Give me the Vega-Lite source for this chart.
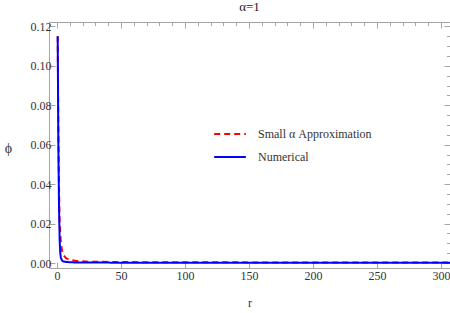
{
  "$schema": "https://vega.github.io/schema/vega-lite/v6.json",
  "width": 401,
  "height": 246,
  "autosize": "none",
  "padding": {"left": 49, "top": 22, "right": 0, "bottom": 45},
  "background": "white",
  "title": {"text": "α=1", "font": "Liberation Serif, Times New Roman, serif", "fontSize": 13, "fontWeight": "normal", "color": "#222", "offset": 6},
  "config": {
    "font": "Liberation Serif, Times New Roman, serif",
    "view": {"stroke": "#a6a6a6", "strokeWidth": 1},
    "axis": {"labelFont": "Liberation Serif, Times New Roman, serif", "titleFont": "Liberation Serif, Times New Roman, serif", "labelFontSize": 12, "labelColor": "#333", "titleColor": "#333", "titleFontWeight": "normal", "domain": false, "grid": false, "tickColor": "#a6a6a6"},
    "legend": {"labelFont": "Liberation Serif, Times New Roman, serif"}
  },
  "data": {"values": [
    {"r": 0.5, "phi": 0.115, "series": "Small α Approximation"},
    {"r": 1, "phi": 0.07, "series": "Small α Approximation"},
    {"r": 1.5, "phi": 0.04, "series": "Small α Approximation"},
    {"r": 2, "phi": 0.02, "series": "Small α Approximation"},
    {"r": 3, "phi": 0.01, "series": "Small α Approximation"},
    {"r": 4, "phi": 0.006, "series": "Small α Approximation"},
    {"r": 5, "phi": 0.004, "series": "Small α Approximation"},
    {"r": 7, "phi": 0.0025, "series": "Small α Approximation"},
    {"r": 10, "phi": 0.0016, "series": "Small α Approximation"},
    {"r": 15, "phi": 0.0011, "series": "Small α Approximation"},
    {"r": 25, "phi": 0.0007, "series": "Small α Approximation"},
    {"r": 50, "phi": 0.0005, "series": "Small α Approximation"},
    {"r": 100, "phi": 0.0004, "series": "Small α Approximation"},
    {"r": 200, "phi": 0.0003, "series": "Small α Approximation"},
    {"r": 310, "phi": 0.00025, "series": "Small α Approximation"},
    {"r": 0.5, "phi": 0.115, "series": "Numerical"},
    {"r": 1, "phi": 0.06, "series": "Numerical"},
    {"r": 1.5, "phi": 0.03, "series": "Numerical"},
    {"r": 2, "phi": 0.012, "series": "Numerical"},
    {"r": 2.5, "phi": 0.005, "series": "Numerical"},
    {"r": 3, "phi": 0.0025, "series": "Numerical"},
    {"r": 4, "phi": 0.0012, "series": "Numerical"},
    {"r": 5, "phi": 0.0008, "series": "Numerical"},
    {"r": 8, "phi": 0.0005, "series": "Numerical"},
    {"r": 15, "phi": 0.0003, "series": "Numerical"},
    {"r": 50, "phi": 0.0002, "series": "Numerical"},
    {"r": 150, "phi": 0.0001, "series": "Numerical"},
    {"r": 310, "phi": 0.0001, "series": "Numerical"}
  ]},
  "resolve": {"axis": {"x": "independent", "y": "independent"}},
  "layer": [
    {
      "mark": {"type": "line", "strokeWidth": 2, "clip": true},
      "encoding": {
        "x": {"field": "r", "type": "quantitative", "scale": {"domain": [-6.3, 307], "nice": false, "zero": false},
              "axis": {"title": "r", "values": [0, 50, 100, 150, 200, 250, 300], "tickSize": -6, "labelPadding": 8, "titleY": 34, "titleBaseline": "middle", "titleFontSize": 12}},
        "y": {"field": "phi", "type": "quantitative", "scale": {"domain": [-0.0025, 0.1222], "nice": false, "zero": false},
              "axis": {"title": "ϕ", "values": [0, 0.02, 0.04, 0.06, 0.08, 0.1, 0.12], "format": ".2f", "tickSize": -6, "labelPadding": 4, "titleAngle": 0, "titleX": -41, "titleY": 126, "titleAlign": "center", "titleBaseline": "middle", "titleFontSize": 14}},
        "color": {"field": "series", "type": "nominal", "sort": null, "scale": {"domain": ["Small α Approximation", "Numerical"], "range": ["#ff0000", "#0000ff"]},
                  "legend": {"title": null, "orient": "none", "legendX": 164, "legendY": 95, "symbolType": "stroke", "symbolSize": 1000, "symbolStrokeWidth": 2, "labelFontSize": 12, "labelColor": "#333", "rowPadding": -7, "labelOffset": 11}},
        "strokeDash": {"field": "series", "type": "nominal", "sort": null, "scale": {"domain": ["Small α Approximation", "Numerical"], "range": [[6, 4], [1, 0]]}, "legend": {"title": null, "orient": "none", "legendX": 164, "legendY": 95, "symbolType": "stroke", "symbolSize": 1000, "symbolStrokeWidth": 2, "labelFontSize": 12, "labelColor": "#333", "rowPadding": -7, "labelOffset": 11}},
        "order": {"field": "r", "type": "quantitative"}
      }
    },
    {
      "mark": {"type": "point", "opacity": 0},
      "encoding": {
        "x": {"field": "r", "type": "quantitative", "axis": {"title": null, "labels": false, "values": [10, 20, 30, 40, 60, 70, 80, 90, 110, 120, 130, 140, 160, 170, 180, 190, 210, 220, 230, 240, 260, 270, 280, 290], "tickSize": -3.5}},
        "y": {"field": "phi", "type": "quantitative", "axis": {"title": null, "labels": false, "values": [0.005, 0.01, 0.015, 0.025, 0.03, 0.035, 0.045, 0.05, 0.055, 0.065, 0.07, 0.075, 0.085, 0.09, 0.095, 0.105, 0.11, 0.115], "tickSize": -3.5}}
      }
    },
    {
      "mark": {"type": "point", "opacity": 0},
      "encoding": {
        "x": {"field": "r", "type": "quantitative", "axis": {"orient": "top", "title": null, "labels": false, "values": [0, 50, 100, 150, 200, 250, 300], "tickSize": -6}},
        "y": {"field": "phi", "type": "quantitative", "axis": {"orient": "right", "title": null, "labels": false, "values": [0, 0.02, 0.04, 0.06, 0.08, 0.1, 0.12], "tickSize": -6}}
      }
    },
    {
      "mark": {"type": "point", "opacity": 0},
      "encoding": {
        "x": {"field": "r", "type": "quantitative", "axis": {"orient": "top", "title": null, "labels": false, "values": [10, 20, 30, 40, 60, 70, 80, 90, 110, 120, 130, 140, 160, 170, 180, 190, 210, 220, 230, 240, 260, 270, 280, 290], "tickSize": -3.5}},
        "y": {"field": "phi", "type": "quantitative", "axis": {"orient": "right", "title": null, "labels": false, "values": [0.005, 0.01, 0.015, 0.025, 0.03, 0.035, 0.045, 0.05, 0.055, 0.065, 0.07, 0.075, 0.085, 0.09, 0.095, 0.105, 0.11, 0.115], "tickSize": -3.5}}
      }
    }
  ]
}
